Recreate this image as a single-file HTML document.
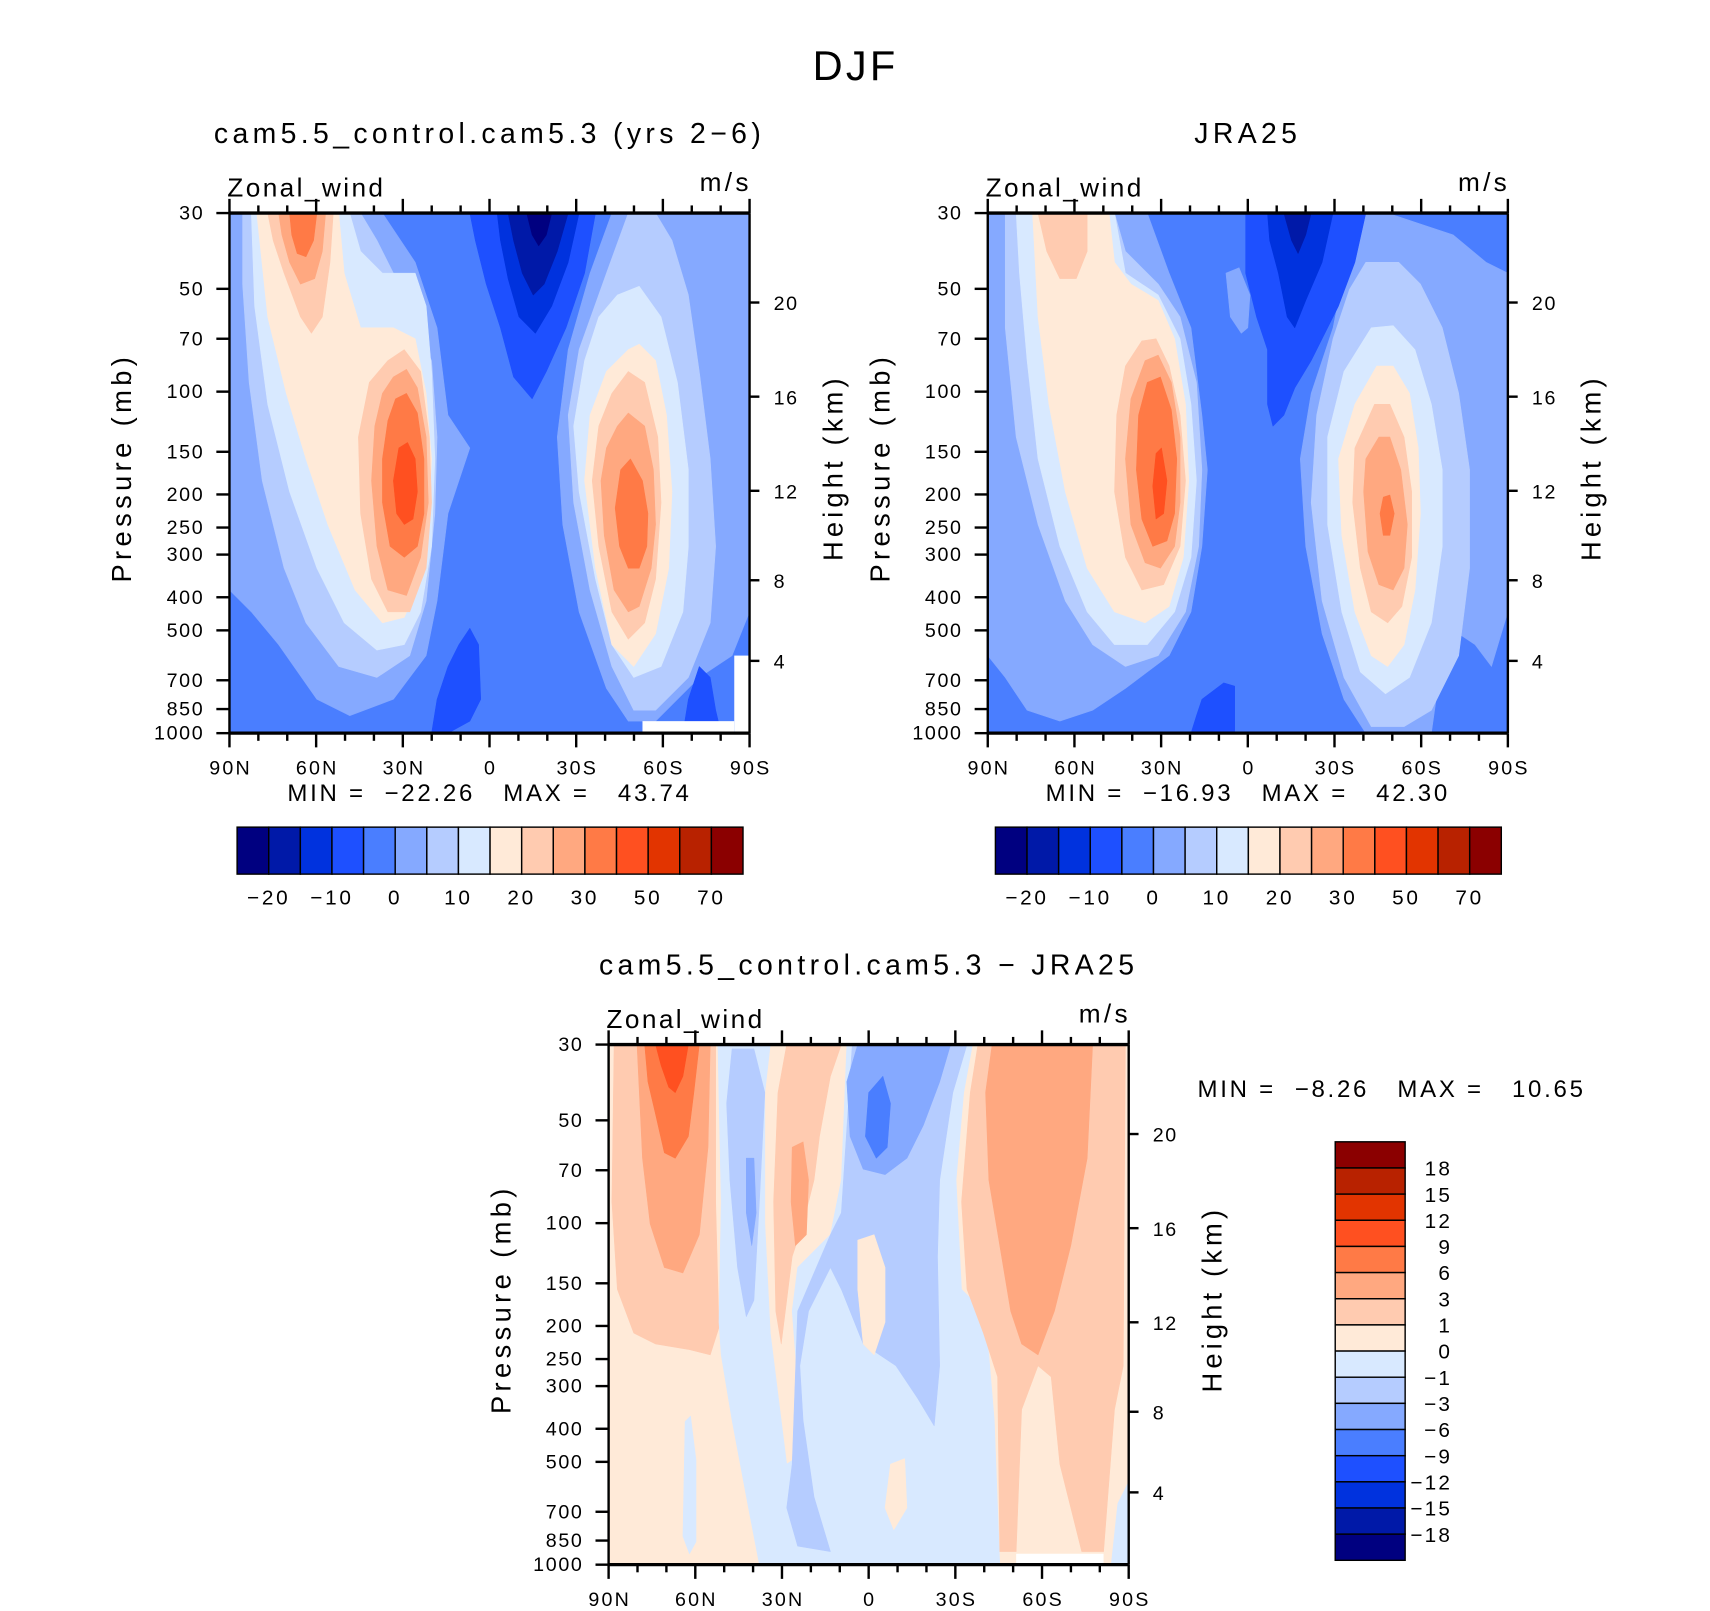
<!DOCTYPE html>
<html><head><meta charset="utf-8"><style>
html,body{margin:0;padding:0;background:#fff;}
svg{display:block;}
text{font-family:"Liberation Sans",sans-serif;fill:#000;}
</style></head><body>
<svg id="fig" width="1710" height="1611" viewBox="0 0 1565 1474.4" xmlns="http://www.w3.org/2000/svg">
<text x="783" y="73" font-size="38" letter-spacing="3" text-anchor="middle">DJF</text>
</svg>
<script>
const NS='http://www.w3.org/2000/svg';
const svg=document.getElementById('fig');
const palette=['#000080','#0019a8','#0032de','#1e50ff','#4a7eff','#85a9ff','#b5ccff','#d8e9ff','#ffead8','#ffcbb0','#ffa880','#ff7a46','#ff5020','#e23400','#b82200','#8b0000'];
const pressureTicks=[30,50,70,100,150,200,250,300,400,500,700,850,1000];
const heightTicks=[4,8,12,16,20];
const heightFrac=[0.861,0.706,0.534,0.353,0.172];
const latTicks=[90,60,30,0,-30,-60,-90];
const latLabels=['90N','60N','30N','0','30S','60S','90S'];
const fullLevels=['−20','−10','0','10','20','30','50','70'];
const diffLevels=['18','15','12','9','6','3','1','0','−1','−3','−6','−9','−12','−15','−18'];
const stats1=['−22.26','43.74'];
const stats2=['−16.93','42.30'];
const stats3=['−8.26','10.65'];

function el(tag,attrs,parent){const e=document.createElementNS(NS,tag);for(const k in attrs)e.setAttribute(k,attrs[k]);(parent||svg).appendChild(e);return e;}
function txt(s,x,y,size,anchor,parent,ls){const t=el('text',{x:x,y:y,'font-size':size,'text-anchor':anchor||'start'},parent);if(ls)t.setAttribute('letter-spacing',ls);t.textContent=s;return t;}

const P1=[
 [5,[[0,0],[140,0],[170,45],[190,105],[200,185],[220,215],[200,275],[190,355],[180,405],[150,445],[110,460],[80,445],[45,395],[20,365],[0,345]]],
 [5,[[350,0],[476,0],[476,365],[460,405],[430,425],[410,445],[390,465],[365,465],[345,435],[320,365],[305,285],[300,205],[310,125],[330,55]]],
 [6,[[12,0],[120,0],[135,25],[150,55],[165,75],[170,105],[185,135],[190,205],[188,275],[180,355],[165,405],[135,425],[100,415],[70,375],[50,325],[30,245],[18,155],[12,65]]],
 [6,[[365,0],[390,0],[405,25],[420,75],[430,145],[440,225],[445,305],[440,375],[420,425],[390,455],[370,455],[350,415],[330,345],[315,265],[310,185],[320,125],[345,55]]],
 [7,[[20,0],[110,0],[120,35],[140,55],[170,55],[180,85],[185,145],[188,225],[185,305],[175,365],[160,395],[135,400],[105,375],[80,325],[55,255],[35,175],[23,85]]],
 [7,[[355,75],[375,67],[395,95],[410,155],[420,235],[420,305],[415,365],[395,415],[370,425],[350,395],[335,335],[320,255],[315,195],[325,135],[338,95]]],
 [8,[[25,0],[100,0],[105,55],[120,105],[150,105],[170,115],[180,165],[185,225],[182,285],[175,335],[160,370],[140,375],[115,345],[90,285],[70,225],[52,165],[35,95]]],
 [8,[[365,125],[375,120],[390,135],[400,185],[405,255],[402,325],[390,385],[370,415],[350,395],[335,325],[325,245],[330,185],[345,145]]],
 [9,[[35,0],[95,0],[92,45],[85,95],[75,110],[65,95],[50,55],[40,25]]],
 [9,[[145,135],[160,125],[175,145],[183,205],[185,265],[180,325],[165,365],[145,365],[130,335],[120,275],[118,205],[128,155]]],
 [9,[[350,165],[365,145],[380,155],[392,205],[395,265],[390,335],[380,375],[365,390],[350,365],[338,305],[332,245],[338,195]]],
 [10,[[45,0],[88,0],[85,35],[78,60],[65,65],[55,45],[48,20]]],
 [10,[[150,150],[162,143],[172,160],[180,205],[182,265],[175,315],[162,350],[145,345],[135,305],[130,245],[133,195],[140,165]]],
 [10,[[355,195],[365,183],[380,195],[388,235],[390,285],[386,325],[375,360],[365,365],[352,345],[343,295],[340,245],[345,215]]],
 [11,[[55,0],[80,0],[77,25],[70,40],[62,37],[57,20]]],
 [11,[[152,170],[162,165],[172,183],[178,225],[178,275],[172,305],[160,315],[147,305],[140,265],[140,225],[145,190]]],
 [11,[[358,235],[367,225],[378,245],[383,275],[382,305],[375,325],[365,325],[357,305],[353,270]]],
 [12,[[155,215],[163,210],[170,225],[172,255],[168,280],[160,285],[153,275],[150,245]]],
 [3,[[220,0],[335,0],[325,55],[308,105],[290,145],[277,170],[260,150],[248,105],[235,65],[225,25]]],
 [2,[[245,0],[320,0],[310,45],[295,85],[280,110],[265,95],[255,60],[248,25]]],
 [1,[[255,0],[310,0],[300,35],[288,65],[278,75],[268,55],[260,25]]],
 [0,[[272,0],[295,0],[290,20],[283,30],[277,20]]],
 [3,[[210,395],[220,380],[228,395],[230,445],[220,465],[200,476],[185,476],[190,445],[200,415]]],
 [3,[[420,445],[430,415],[440,425],[445,455],[450,476],[415,476]]]
];
const P2=[
 [5,[[0,0],[146,0],[166,55],[186,105],[196,185],[201,235],[196,305],[186,365],[166,405],[126,435],[96,455],[66,465],[36,455],[16,425],[0,405]]],
 [5,[[336,0],[366,0],[396,10],[426,20],[456,45],[476,55],[476,365],[461,415],[446,395],[431,385],[416,405],[406,476],[346,476],[326,445],[306,385],[291,305],[286,225],[296,165],[316,105],[326,55]]],
 [5,[[218,55],[230,50],[240,75],[238,105],[232,110],[222,95]]],
 [6,[[16,0],[116,0],[126,35],[156,65],[176,95],[191,155],[196,235],[193,305],[181,365],[156,405],[126,415],[96,395],[71,355],[46,285],[26,205],[16,105]]],
 [6,[[346,45],[376,45],[396,65],[416,105],[431,165],[441,235],[441,325],[431,405],[406,455],[381,470],[351,470],[326,425],[306,355],[296,265],[301,185],[316,115],[331,70]]],
 [7,[[26,0],[116,0],[126,55],[156,75],[176,115],[186,175],[191,245],[186,315],[171,365],[146,395],[116,395],[91,365],[66,305],[46,225],[36,135],[29,55]]],
 [7,[[351,105],[371,103],[391,125],[406,175],[416,235],[416,305],[406,375],[386,425],[364,440],[341,420],[324,365],[311,285],[311,205],[326,145]]],
 [8,[[41,0],[111,0],[116,45],[131,65],[156,80],[171,115],[181,175],[184,245],[179,315],[166,360],[144,375],[116,365],[91,325],[71,255],[56,175],[46,95]]],
 [8,[[356,140],[371,140],[386,165],[394,215],[396,275],[391,345],[381,395],[366,415],[351,405],[336,365],[324,295],[321,225],[336,175]]],
 [9,[[46,0],[91,0],[91,35],[81,60],[66,60],[54,35]]],
 [9,[[141,117],[154,115],[166,140],[176,185],[181,245],[176,305],[161,340],[141,345],[126,315],[116,255],[118,185],[126,140]]],
 [9,[[354,175],[368,175],[381,205],[388,255],[388,315],[379,360],[366,375],[351,365],[341,325],[334,265],[336,215]]],
 [10,[[144,135],[156,130],[168,155],[176,205],[176,265],[171,305],[158,325],[144,320],[131,285],[126,225],[131,170]]],
 [10,[[358,205],[368,205],[378,235],[384,285],[381,325],[371,345],[358,340],[348,310],[344,255],[346,225]]],
 [11,[[146,155],[158,150],[168,180],[173,225],[171,275],[164,300],[151,305],[141,280],[136,235],[138,185]]],
 [11,[[362,260],[368,258],[372,275],[368,295],[362,295],[359,275]]],
 [12,[[154,220],[159,215],[164,245],[161,275],[154,280],[151,250]]],
 [3,[[236,0],[346,0],[336,45],[321,85],[306,115],[296,135],[281,160],[271,185],[261,195],[256,175],[256,125],[246,95],[236,55]]],
 [3,[[196,445],[216,430],[226,433],[226,476],[186,476],[191,460]]],
 [2,[[256,0],[316,0],[306,45],[291,80],[281,105],[274,95],[266,55],[258,25]]],
 [1,[[271,0],[296,0],[291,20],[284,37],[278,25]]]
];
const P3=[
 [9,[[5,0],[98,0],[98,144],[101,259],[93,284],[73,279],[43,274],[23,264],[8,224],[3,144]]],
 [10,[[26,0],[93,0],[91,94],[83,174],[68,209],[51,204],[38,164],[31,104]]],
 [11,[[33,0],[83,0],[78,44],[73,84],[61,104],[51,99],[43,64],[36,34]]],
 [12,[[43,0],[73,0],[68,29],[61,44],[55,39],[48,19]]],
 [7,[[100,0],[148,0],[143,44],[143,164],[148,264],[158,344],[163,384],[178,374],[168,244],[173,204],[203,174],[213,124],[218,0],[333,0],[325,44],[318,124],[323,224],[343,244],[348,284],[353,344],[358,476],[138,476],[128,424],[113,344],[103,284],[101,254],[103,144]]],
 [7,[[70,345],[75,340],[80,380],[80,455],[74,466],[68,450]]],
 [6,[[113,4],[133,4],[143,44],[138,144],[133,234],[126,249],[118,204],[111,124],[108,54]]],
 [5,[[126,104],[133,104],[135,154],[131,184],[126,154]]],
 [6,[[223,0],[328,0],[315,44],[303,124],[301,194],[303,294],[298,349],[283,324],[263,294],[233,274],[213,224],[203,204],[183,244],[175,294],[178,344],[188,414],[203,464],[173,459],[163,424],[168,384],[173,244],[203,174],[213,154]]],
 [5,[[228,0],[313,0],[303,34],[288,74],[273,104],[253,119],[233,114],[221,84],[218,34]]],
 [4,[[238,44],[251,29],[258,54],[255,94],[245,104],[235,84]]],
 [9,[[163,0],[213,0],[203,29],[193,84],[188,124],[178,164],[168,194],[158,274],[153,244],[151,144],[155,44]]],
 [10,[[168,94],[178,89],[183,124],[181,174],[171,184],[167,144]]],
 [8,[[228,179],[243,174],[253,204],[253,254],[243,284],[233,274],[228,224]]],
 [8,[[258,384],[271,379],[273,424],[261,444],[253,424]]],
 [9,[[338,0],[473,0],[471,294],[463,334],[453,464],[433,464],[413,384],[405,304],[393,294],[378,334],[373,464],[358,464],[356,304],[343,264],[328,224],[323,144],[331,44]]],
 [10,[[351,0],[443,0],[438,104],[423,184],[408,244],[393,284],[378,274],[368,244],[358,184],[348,124],[345,44]]],
 [7,[[466,420],[476,400],[476,476],[460,476]]]
];

function panel(ox,oy,regions,name,base){
  const g=el('g',{transform:`translate(${ox},${oy})`});
  
  
  el('defs',{},g).innerHTML=`<clipPath id="clip-${name}"><rect x="0" y="0" width="476" height="476"/></clipPath>`;
  const c=el('g',{'clip-path':`url(#clip-${name})`},g);
  const bg=el('rect',{x:0,y:0,width:476,height:476,fill:palette[base]},c);
  
  
  regions.forEach(r=>{
    const p=el('polygon',{points:r[1].map(q=>q.join(',')).join(' '),fill:palette[r[0]],stroke:palette[r[0]],'stroke-width':0.5,'stroke-linejoin':'round'},c);
    
    
  });
  return g;
}

function axes(ox,oy,name,title,statsArr,statsPos){
  const W=476,H=476;
  const g=el('g',{transform:`translate(${ox},${oy})`});
  
  
  const lw=2.2;
  el('line',{x1:0,y1:0,x2:W,y2:0,stroke:'#000','stroke-width':3},g);
  el('line',{x1:0,y1:H,x2:W,y2:H,stroke:'#000','stroke-width':3},g);
  el('line',{x1:0,y1:0,x2:0,y2:H,stroke:'#000','stroke-width':lw},g);
  el('line',{x1:W,y1:0,x2:W,y2:H,stroke:'#000','stroke-width':lw},g);
  const xs=lat=>(90-lat)/180*W;
  for(let lat=90;lat>=-90;lat-=10){
    const major=lat%30===0; const L=major?13:7; const x=xs(lat);
    el('line',{x1:x,y1:0,x2:x,y2:-L,stroke:'#000','stroke-width':lw},g);
    el('line',{x1:x,y1:H,x2:x,y2:H+L,stroke:'#000','stroke-width':lw},g);
  }
  latTicks.forEach((lat,i)=>{const t=txt(latLabels[i],xs(lat)+1,H+38,18,'middle',g,2);
    
    });
  const ys=p=>Math.log(p/30)/Math.log(1000/30)*H;
  pressureTicks.forEach(p=>{
    const y=ys(p);
    el('line',{x1:0,y1:y,x2:-12,y2:y,stroke:'#000','stroke-width':lw},g);
    const t=txt(String(p),-23,y+6,18,'end',g,1.5);
    
    
  });
  heightTicks.forEach((h,i)=>{
    const y=heightFrac[i]*H;
    el('line',{x1:W,y1:y,x2:W+9,y2:y,stroke:'#000','stroke-width':lw},g);
    const t=txt(String(h),W+22,y+7,18,'start',g,1.5);
    
    
  });
  let t=txt('Zonal_wind',-2,-15,24,'start',g,2.2);
  
  
  t=txt('m/s',W+2,-20,24,'end',g,3);
  
  
  t=txt('Pressure  (mb)',-90,H/2-5,25,'middle',g,4);
  t.setAttribute('transform',`rotate(-90 -90 ${H/2-5})`);
  
  
  t=txt('Height  (km)',W+85,H/2-5,25,'middle',g,3.8);
  t.setAttribute('transform',`rotate(-90 ${W+85} ${H/2-5})`);
  
  
  t=txt(title,W/2,-64,26,'middle',g,4);
  
  
  t=txt(`MIN =  ${statsArr[0]}   MAX =   ${statsArr[1]}`,statsPos[0],statsPos[1],22,statsPos[2],g,2.5);
  t.style.whiteSpace='pre';
  
  
}

function hColorbar(x,y,name){
  const g=el('g',{});
  
  
  const w=463/16,h=43;
  palette.forEach((c,i)=>{
    const r=el('rect',{x:x+i*w,y:y,width:w,height:h,fill:c,stroke:'#000','stroke-width':1.3},g);
    
    
  });
  fullLevels.forEach((lab,i)=>{
    const t=txt(lab,x+(2*i+1)*w,y+h+28,19,'middle',g,2.5);
    
    
  });
}
function vColorbar(x,y,name){
  const g=el('g',{});
  
  
  const h=383/16,w=64;
  palette.slice().reverse().forEach((c,i)=>{
    const r=el('rect',{x:x,y:y+i*h,width:w,height:h,fill:c,stroke:'#000','stroke-width':1.3},g);
    
    
  });
  diffLevels.forEach((lab,i)=>{
    const t=txt(lab,x+w+43,y+(i+1)*h+7,19,'end',g,2);
    
    
  });
}

panel(210,195,P1,'model',4);
panel(904,195,P2,'jra25',4);
panel(557,956,P3,'difference',8);
[[588,660,84,11],[672,600,14,71],[930,1422,80,10]].forEach(r=>{
  const e=el('rect',{x:r[0],y:r[1],width:r[2],height:r[3],fill:'#fff'});
  
  
});
axes(210,195,'model','cam5.5_control.cam5.3 (yrs 2−6)',stats1,[238,538,'middle']);
axes(904,195,'jra25','JRA25',stats2,[238,538,'middle']);
axes(557,956,'difference','cam5.5_control.cam5.3 − JRA25',stats3,[539,48,'start']);
hColorbar(217,757,'model-colorbar');
hColorbar(911,757,'jra25-colorbar');
vColorbar(1222,1045,'difference-colorbar');
</script>
</body></html>
